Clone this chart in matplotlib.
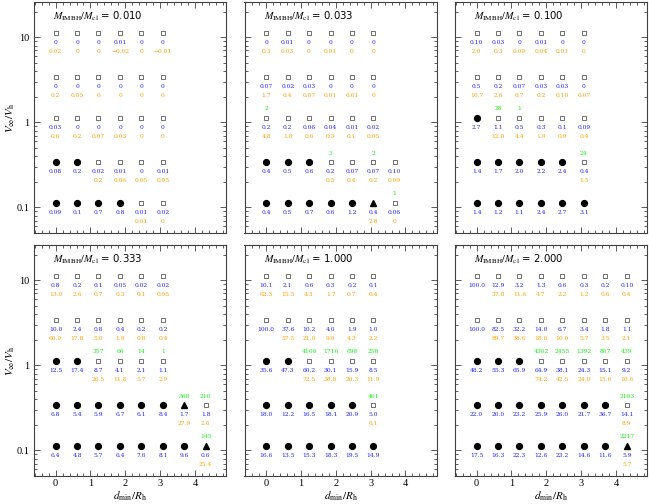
import matplotlib
matplotlib.use('Agg')
import matplotlib.pyplot as plt
from matplotlib import transforms as mtransforms
from matplotlib.ticker import FixedLocator, MultipleLocator, LogLocator, NullFormatter

plt.rcParams['mathtext.fontset'] = 'stix'

# column positions (d_min / R_h) and row velocities (V_inf / V_h)
dmin = [0, 0.62, 1.23, 1.85, 2.46, 3.08, 3.69, 4.31]
vel = [10.0, 3.0, 1.0, 0.3, 0.1]
ratios = ["0.010", "0.033", "0.100", "0.333", "1.000", "2.000"]

# c = filled circle, s = open square, t = triangle ; rows from V=10 down to V=0.1
kind_010 = ["ssssss", "ssssss", "ssssss", "ccssss", "ccccss"]
blue_010 = [["0", "0", "0", "0.01", "0", "0"],
            ["0", "0", "0", "0", "0", "0"],
            ["0.03", "0", "0", "0", "0", "0"],
            ["0.08", "0.2", "0.02", "0.01", "0", "0.01"],
            ["0.09", "0.1", "0.7", "0.8", "0.01", "0.02"]]
orange_010 = [["0.02", "0", "0", "\u22120.02", "0", "\u22120.01"],
              ["0.2", "0.05", "0", "0", "0", "0"],
              ["0.6", "0.2", "0.07", "0.03", "0", "0"],
              ["", "", "0.2", "0.06", "0.05", "0.05"],
              ["", "", "", "", "0.01", "0"]]
green_010 = [[], [], [], [], []]

kind_033 = ["ssssss", "ssssss", "ssssss", "cccssss", "cccccts"]
blue_033 = [["0", "0.01", "0", "0", "0", "0"],
            ["0.07", "0.02", "0.03", "0", "0", "0"],
            ["0.2", "0.2", "0.06", "0.04", "0.01", "0.02"],
            ["0.4", "0.5", "0.6", "0.2", "0.07", "0.07", "0.10"],
            ["0.4", "0.5", "0.7", "0.6", "1.2", "0.4", "0.06"]]
orange_033 = [["0.3", "0.03", "0", "0.01", "0", "0"],
              ["1.7", "0.4", "0.07", "0.01", "0.01", "0"],
              ["4.8", "1.8", "0.6", "0.3", "0.1", "0.05"],
              ["", "", "", "0.5", "0.4", "0.2", "0.09"],
              ["", "", "", "", "", "2.8", "0"]]
green_033 = [[], [], ["2"], ["", "", "", "3", "", "2"], ["", "", "", "", "", "", "1"]]

kind_100 = ["ssssss", "ssssss", "csssss", "cccccs", "cccccc"]
blue_100 = [["0.10", "0.03", "0", "0.01", "0", "0"],
            ["0.5", "0.2", "0.07", "0.03", "0.03", "0"],
            ["2.7", "1.1", "0.5", "0.3", "0.1", "0.09"],
            ["1.4", "1.7", "2.0", "2.2", "2.4", "0.4"],
            ["1.4", "1.2", "1.1", "2.4", "2.7", "3.1"]]
orange_100 = [["2.0", "0.3", "0.09", "0.04", "0.01", "0"],
              ["10.7", "2.6", "0.7", "0.2", "0.10", "0.07"],
              ["", "12.0", "4.4", "1.9", "0.9", "0.4"],
              ["", "", "", "", "", "1.5"],
              []]
green_100 = [[], [], ["", "28", "1"], ["", "", "", "", "", "24"], []]

kind_333 = ["ssssss", "ssssss", "ccssss", "ccccccts", "ccccccct"]
blue_333 = [["0.8", "0.2", "0.1", "0.05", "0.02", "0.02"],
            ["10.0", "2.4", "0.8", "0.4", "0.2", "0.2"],
            ["12.5", "17.4", "8.7", "4.1", "2.1", "1.1"],
            ["6.8", "5.4", "5.9", "6.7", "6.1", "8.4", "1.7", "1.8"],
            ["6.4", "4.8", "5.7", "6.4", "7.6", "8.1", "9.6", "0.6"]]
orange_333 = [["13.0", "2.6", "0.7", "0.3", "0.1", "0.05"],
              ["60.9", "17.8", "5.0", "1.9", "0.8", "0.4"],
              ["", "", "26.5", "11.8", "5.7", "2.9"],
              ["", "", "", "", "", "", "27.9", "2.6"],
              ["", "", "", "", "", "", "", "25.4"]]
green_333 = [[], [], ["", "", "357", "66", "14", "1"],
             ["", "", "", "", "", "", "368", "210"],
             ["", "", "", "", "", "", "", "145"]]

kind_1000 = ["ssssss", "ssssss", "ccssss", "cccccs", "cccccc"]
blue_1000 = [["10.1", "2.1", "0.6", "0.3", "0.2", "0.1"],
             ["100.0", "37.6", "10.2", "4.0", "1.9", "1.0"],
             ["35.6", "47.3", "60.2", "30.1", "15.9", "8.5"],
             ["18.0", "12.2", "16.5", "18.1", "20.9", "5.0"],
             ["16.6", "13.5", "15.3", "18.3", "19.5", "14.9"]]
orange_1000 = [["62.3", "15.5", "4.3", "1.7", "0.7", "0.4"],
               ["", "57.5", "21.0", "9.0", "4.3", "2.2"],
               ["", "", "72.5", "38.8", "20.3", "11.9"],
               ["", "", "", "", "", "6.1"],
               []]
green_1000 = [[], [], ["", "", "4160", "1716", "698", "258"],
              ["", "", "", "", "", "401"], []]

kind_2000 = ["ssssssss", "ssssssss", "cccsssss", "cccccccs", "ccccccct"]
blue_2000 = [["100.0", "12.9", "3.2", "1.3", "0.6", "0.3", "0.2", "0.10"],
             ["100.0", "82.5", "32.2", "14.0", "6.7", "3.4", "1.8", "1.1"],
             ["48.2", "55.3", "65.9", "64.9", "38.1", "24.3", "15.1", "9.2"],
             ["22.0", "20.0", "23.2", "25.9", "26.0", "21.7", "36.7", "14.1"],
             ["17.5", "16.3", "22.3", "12.6", "23.2", "14.6", "11.6", "5.9"]]
orange_2000 = [["", "37.8", "11.6", "4.7", "2.2", "1.2", "0.6", "0.4"],
               ["", "89.7", "38.6", "18.6", "10.0", "5.7", "3.5", "2.1"],
               ["", "", "", "74.2", "42.5", "24.0", "15.6", "10.6"],
               ["", "", "", "", "", "", "", "8.9"],
               ["", "", "", "", "", "", "", "5.7"]]
green_2000 = [[], [], ["", "", "", "4302", "2455", "1392", "807", "439"],
              ["", "", "", "", "", "", "", "2103"],
              ["", "", "", "", "", "", "", "2217"]]

panels = [(kind_010, blue_010, orange_010, green_010),
          (kind_033, blue_033, orange_033, green_033),
          (kind_100, blue_100, orange_100, green_100),
          (kind_333, blue_333, orange_333, green_333),
          (kind_1000, blue_1000, orange_1000, green_1000),
          (kind_2000, blue_2000, orange_2000, green_2000)]

BLUE = '#2020ff'
ORANGE = '#ffa000'
GREEN = '#10f010'
NUMFONT = 'DejaVu Serif'
NUMSIZE = 4.3


def put_text(ax, x, v, s, dy, col):
	if s == "":
		return
	ax.annotate(s, (x, v), xytext=(0, dy), textcoords='offset pixels',
				ha='center', va='center', color=col, fontsize=NUMSIZE, family=NUMFONT)


def draw_panel(ax, ratio, kind, blue, orange, green):
	mark_tr = mtransforms.offset_copy(ax.transData, fig=ax.figure, y=4.5, units='dots')
	for r in range(len(vel)):
		v = vel[r]
		for i, k in enumerate(kind[r]):
			x = dmin[i]
			if k == 'c':
				ax.plot(x, v, 'o', ms=4.2, mfc='k', mec='k', transform=mark_tr)
			elif k == 's':
				ax.plot(x, v, 's', ms=3.4, mfc='none', mec='0.35', mew=0.6, transform=mark_tr)
			elif k == 't':
				ax.plot(x, v, '^', ms=3.8, mfc='k', mec='k', transform=mark_tr)
		for i, s in enumerate(blue[r]):
			put_text(ax, dmin[i], v, s, -4.8, BLUE)
		for i, s in enumerate(orange[r]):
			put_text(ax, dmin[i], v, s, -13.8, ORANGE)
		for i, s in enumerate(green[r]):
			put_text(ax, dmin[i], v, s, 13.8, GREEN)

	ax.set_yscale('log')
	ax.set_xlim(-0.62, 4.89)
	ax.set_ylim(0.05, 26)
	ax.text(0.1, 0.94, r"$M_{\rm IMBH}/M_{\rm cl}$ = " + ratio, transform=ax.transAxes,
			fontsize=7.3, family='DejaVu Sans', ha='left', va='center')

	ax.xaxis.set_major_locator(MultipleLocator(1))
	ax.xaxis.set_minor_locator(MultipleLocator(0.2))
	ax.yaxis.set_major_locator(FixedLocator([0.1, 1, 10]))
	ax.yaxis.set_minor_locator(LogLocator(base=10, subs=range(2, 10)))
	ax.yaxis.set_minor_formatter(NullFormatter())
	ax.tick_params(which='both', direction='in', top=True, right=True, width=0.6, color='0.25')
	ax.tick_params(which='major', length=4)
	ax.tick_params(which='minor', length=2)
	ax.tick_params(axis='x', which='major', pad=2.5)
	for sp in ax.spines.values():
		sp.set_linewidth(0.8)
		sp.set_color('0.25')


fig = plt.figure(figsize=(6.49, 5.04), dpi=100)
lefts = [34 / 649, 244.5 / 649, 455 / 649]
bottoms = [1 - 233 / 504, 1 - 476 / 504]
w = 192 / 649
h = 231 / 504

for n in range(6):
	row = n // 3
	col = n % 3
	ax = fig.add_axes([lefts[col], bottoms[row], w, h])
	kind, blue, orange, green = panels[n]
	draw_panel(ax, ratios[n], kind, blue, orange, green)
	if col == 0:
		ax.set_yticklabels(["0.1", "1", "10"], family='Liberation Serif', fontsize=7.5)
		ax.set_ylabel(r"$V_\infty/V_{\rm h}$", fontsize=8)
		ax.yaxis.set_label_coords(-0.088, 0.5)
	else:
		ax.set_yticklabels([])
	if row == 1:
		ax.set_xticks([0, 1, 2, 3, 4])
		ax.set_xticklabels(["0", "1", "2", "3", "4"], family='Liberation Serif', fontsize=7.5)
		ax.set_xlabel(r"$d_{\rm min}/R_{\rm h}$", fontsize=8)
		ax.xaxis.set_label_coords(0.5, -0.06)
	else:
		ax.set_xticklabels([])

fig.savefig('out.png', dpi=100)
